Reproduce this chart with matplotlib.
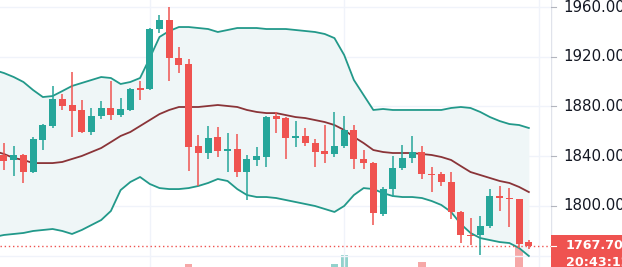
import numpy as np
import matplotlib.pyplot as plt
from matplotlib.patches import Rectangle

# OHLC candles
opens = [1841.0, 1837.0, 1841.0, 1827.3, 1853.0, 1864.3, 1886.0, 1881.2, 1877.2, 1859.5,
         1872.3, 1878.8, 1873.1, 1877.2, 1894.8, 1894.0, 1942.3, 1949.5, 1919.0, 1914.1,
         1848.2, 1842.6, 1855.5, 1844.2, 1845.8, 1827.3, 1837.0, 1839.4, 1872.3, 1870.7,
         1854.6, 1856.3, 1850.6, 1844.2, 1841.8, 1848.2, 1861.1, 1837.8, 1834.5, 1793.5,
         1813.6, 1830.5, 1838.6, 1843.4, 1825.7, 1825.7, 1819.3, 1795.2, 1776.7, 1776.7,
         1783.9, 1808.0, 1806.4, 1805.6, 1771.0]
highs = [1850.6, 1848.2, 1841.5, 1855.5, 1865.9, 1896.5, 1890.0, 1907.7, 1885.2, 1878.8,
         1884.4, 1900.5, 1886.8, 1894.8, 1900.5, 1943.1, 1953.5, 1960.0, 1927.8, 1918.2,
         1857.1, 1864.3, 1863.5, 1858.7, 1857.9, 1841.0, 1847.4, 1872.3, 1875.6, 1871.5,
         1868.3, 1862.7, 1853.8, 1865.1, 1875.6, 1872.3, 1865.1, 1845.0, 1835.4, 1815.3,
         1840.2, 1849.0, 1856.3, 1848.2, 1831.3, 1827.3, 1827.3, 1795.6, 1790.3, 1791.9,
         1813.6, 1816.1, 1814.4, 1806.0, 1772.6]
lows = [1828.9, 1824.1, 1818.5, 1826.5, 1845.0, 1862.7, 1877.2, 1855.5, 1858.7, 1857.1,
        1869.9, 1869.1, 1871.5, 1876.4, 1885.2, 1893.2, 1939.1, 1900.5, 1906.9, 1828.1,
        1816.1, 1837.8, 1839.4, 1827.3, 1823.3, 1804.8, 1832.1, 1831.3, 1858.7, 1837.8,
        1847.4, 1848.2, 1831.3, 1834.5, 1839.4, 1846.6, 1829.7, 1829.7, 1784.7, 1791.9,
        1807.2, 1828.9, 1834.5, 1821.7, 1811.2, 1816.1, 1789.5, 1770.2, 1768.6, 1760.6,
        1782.3, 1796.0, 1783.1, 1766.5, 1765.4]
closes = [1836.2, 1841.0, 1827.3, 1853.8, 1865.1, 1886.0, 1880.4, 1876.4, 1859.5, 1872.3,
          1878.8, 1873.1, 1878.0, 1894.0, 1893.2, 1942.3, 1949.5, 1919.0, 1913.3, 1847.4,
          1842.6, 1854.6, 1844.2, 1845.8, 1827.3, 1837.8, 1840.2, 1871.5, 1869.9, 1854.6,
          1856.3, 1850.6, 1843.4, 1841.8, 1848.2, 1861.1, 1837.8, 1834.5, 1794.3, 1813.6,
          1830.5, 1838.6, 1843.4, 1825.7, 1824.9, 1819.3, 1795.2, 1776.7, 1775.9, 1783.9,
          1808.0, 1806.4, 1805.6, 1769.4, 1767.7]
volumes = [2800, 2400, 3000, 3600, 3200, 4000, 2600, 3400, 3000, 2700,
           2200, 3100, 2400, 3300, 2500, 4800, 3800, 4600, 3500, 5600,
           4200, 3300, 3000, 2900, 3700, 4100, 2700, 4400, 2500, 3300,
           2400, 2600, 3000, 3500, 5600, 6500, 4400, 3000, 5000, 4500,
           3800, 3200, 3600, 5800, 2800, 2700, 4700, 4400, 3000, 4000,
           4600, 2900, 3400, 7800, 2000]

# Bollinger bands, starting one bar before the first visible candle
band_upper = [1909.3, 1906.9, 1903.7, 1899.7, 1893.2, 1887.6, 1888.4, 1892.4, 1896.5, 1898.9,
              1901.3, 1903.7, 1902.9, 1898.1, 1899.7, 1902.9, 1919.0, 1935.9, 1940.7, 1943.9,
              1943.9, 1943.1, 1942.3, 1939.9, 1941.5, 1943.1, 1943.1, 1943.1, 1942.3, 1942.3,
              1942.3, 1941.5, 1940.7, 1939.9, 1938.3, 1935.0, 1921.4, 1901.3, 1889.2, 1877.2,
              1878.0, 1877.2, 1877.2, 1877.2, 1877.2, 1877.2, 1877.2, 1878.8, 1879.6, 1878.8,
              1875.6, 1871.5, 1868.3, 1865.9, 1865.1, 1862.7]
band_basis = [1844.2, 1841.8, 1838.6, 1837.0, 1834.5, 1834.5, 1834.5, 1835.4, 1837.8, 1840.2,
              1843.4, 1846.6, 1851.4, 1856.3, 1859.5, 1864.3, 1869.1, 1873.9, 1877.2, 1879.6,
              1879.6, 1879.6, 1880.4, 1881.2, 1880.4, 1879.6, 1877.2, 1875.6, 1874.7, 1874.7,
              1873.1, 1871.5, 1870.7, 1869.1, 1867.5, 1865.1, 1861.1, 1855.5, 1850.6, 1845.0,
              1843.4, 1842.6, 1842.6, 1842.6, 1841.8, 1841.0, 1839.4, 1837.0, 1832.1, 1827.3,
              1824.9, 1822.5, 1820.1, 1818.5, 1815.3, 1811.2]
band_lower = [1775.1, 1776.7, 1777.5, 1778.3, 1779.9, 1780.7, 1781.5, 1779.9, 1777.5, 1780.7,
              1784.7, 1788.7, 1796.0, 1812.8, 1819.3, 1823.3, 1817.7, 1814.4, 1813.6, 1813.6,
              1814.4, 1816.1, 1818.5, 1821.7, 1820.1, 1813.6, 1808.8, 1807.2, 1807.2, 1806.4,
              1804.8, 1803.2, 1801.6, 1800.0, 1797.6, 1795.2, 1800.0, 1808.8, 1814.4, 1813.6,
              1810.4, 1808.0, 1807.2, 1807.2, 1806.4, 1804.0, 1800.8, 1795.2, 1785.5, 1778.3,
              1774.2, 1772.6, 1771.0, 1770.2, 1766.2, 1759.8]

grid_levels = [1760, 1800, 1840, 1880, 1920, 1960]
price_ticks = [1800, 1840, 1880, 1920, 1960]  # 1760 sits under the last-price tag
last_price = 1767.7
countdown = "20:43:12"

UP = '#26a69a'
DOWN = '#ef5350'
GRID = '#f0f3fa'

n = len(opens)
idx = np.arange(n)
band_idx = np.arange(-1, n)
o = np.array(opens)
c = np.array(closes)
colors = [UP if cl >= op else DOWN for op, cl in zip(opens, closes)]

ylo, yhi = 1750.94, 1965.63
xlo, xhi = -0.41, 56.28

fig = plt.figure(figsize=(6.22, 2.67), dpi=100)
fig.patch.set_facecolor('white')

# volume pane, mostly below the visible area
vax = fig.add_axes([0, -0.1985, 551 / 622, 0.4494])
vax.set_zorder(0)
vax.bar(idx, volumes, width=0.75, color=colors, alpha=0.5, linewidth=0)
vax.set_xlim(xlo, xhi)
vax.set_ylim(0, 12000)
vax.axis('off')

# price pane
ax = fig.add_axes([0, 0, 551 / 622, 1])
ax.set_zorder(1)
ax.patch.set_visible(False)
ax.set_xlim(xlo, xhi)
ax.set_ylim(ylo, yhi)
for t in grid_levels:
    ax.axhline(t, color=GRID, lw=1, zorder=0)
for g in [15, 35, 55]:
    ax.axvline(g, color=GRID, lw=1, zorder=0)

ax.fill_between(band_idx, band_lower, band_upper, color='#eff6f7', lw=0, zorder=0.5)
ax.plot(band_idx, band_upper, color='#22998a', lw=1.3, zorder=1)
ax.plot(band_idx, band_lower, color='#22998a', lw=1.3, zorder=1)
ax.plot(band_idx, band_basis, color='#8a3438', lw=1.3, zorder=1)

ax.axhline(last_price, color=DOWN, ls=(0, (1, 2)), lw=1, zorder=1.5)

ax.vlines(idx, lows, highs, colors=colors, lw=1.1, zorder=2)
body_h = np.maximum(np.abs(c - o), 0.8)
ax.bar(idx, body_h, bottom=np.minimum(o, c), width=0.72, color=colors, linewidth=0, zorder=3)
ax.axis('off')

# price scale on the right
sax = fig.add_axes([551 / 622, 0, 71 / 622, 1])
sax.set_xlim(0, 71)
sax.set_ylim(ylo, yhi)
sax.axis('off')
sax.axvline(0.3, color='#e0e3eb', lw=1)
for t in price_ticks:
    sax.plot([0, 5], [t, t], color='#b2b5be', lw=0.8)
    sax.text(12, t, f"{t:.2f}", ha='left', va='center', fontsize=10.8, color='#131722')

sax.add_patch(Rectangle((0, ylo - 10), 80, 1776.7 - ylo + 10, color=DOWN, lw=0, zorder=3))
sax.plot([0, 5], [last_price, last_price], color='white', lw=0.8, zorder=4)
sax.text(15, last_price + 0.6, f"{last_price:.2f}", ha='left', va='center', fontsize=9.2,
         fontweight='bold', color='white', zorder=4)
sax.text(15, 1754.6, countdown, ha='left', va='center', fontsize=9.2,
         fontweight='bold', color='white', zorder=4)

fig.savefig('out.png', dpi=100, facecolor='white')
